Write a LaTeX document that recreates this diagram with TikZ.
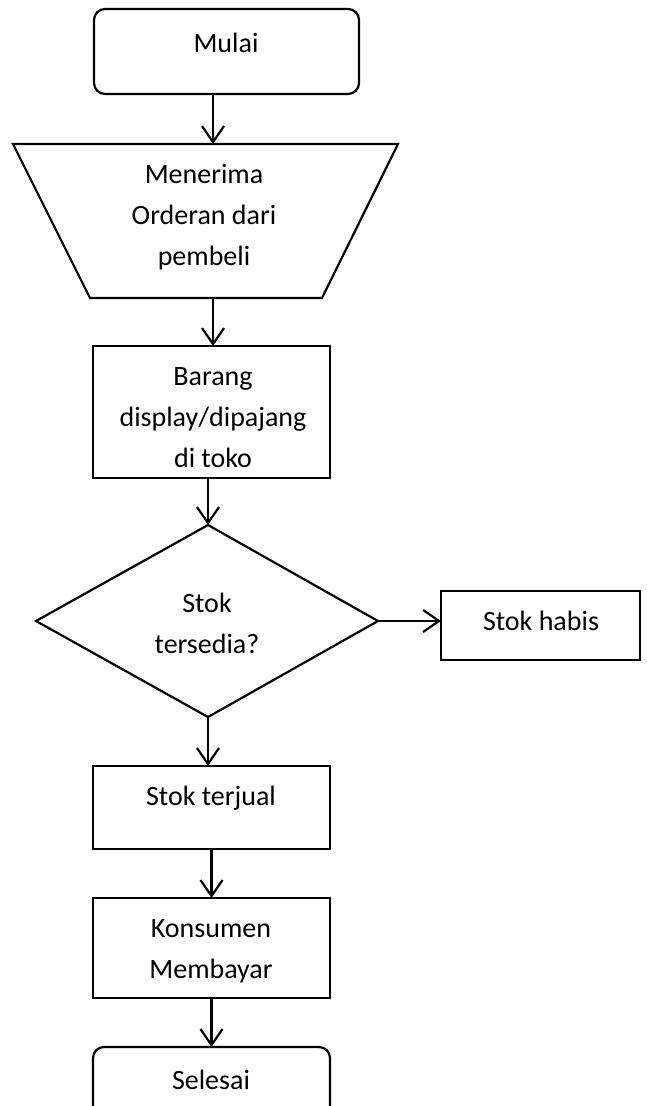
\documentclass[tikz,border=0pt]{standalone}
\usepackage{fontspec}
\setmainfont{Carlito}
\usetikzlibrary{arrows.meta}
\begin{document}
\begin{tikzpicture}[x=1pt,y=-1pt,
  shp/.style={draw=black,line width=2.2pt,inner sep=0pt,outer sep=0pt},
  lbl/.style={font=\fontsize{28}{41}\selectfont,anchor=base,inner sep=0pt,align=center},
  flow/.style={line width=2.2pt,-{Straight Barb[length=16pt,width=22pt]}}]
\useasboundingbox (0,0) rectangle (647,1106);
\clip (0,0) rectangle (647,1106);
% shapes
\node[shp,rounded corners=11pt,minimum width=265pt,minimum height=85pt] (mulai) at (226.5,51.5) {};
\coordinate (tA) at (13,144);
\coordinate (tB) at (398,144);
\coordinate (tC) at (322,298);
\coordinate (tD) at (90,298);
\coordinate (tTop) at (213,144);
\coordinate (tBot) at (213,298);
\draw[shp,line join=miter] (tA) -- (tB) -- (tC) -- (tD) -- cycle;
\node[shp,minimum width=237pt,minimum height=132pt] (barang) at (211.5,412) {};
\coordinate (dT) at (208,525);
\coordinate (dR) at (378,621);
\coordinate (dB) at (208,717);
\coordinate (dL) at (36,621);
\draw[shp,line join=miter] (dT) -- (dR) -- (dB) -- (dL) -- cycle;
\node[shp,minimum width=199pt,minimum height=69pt] (habis) at (540.5,625.5) {};
\node[shp,minimum width=237pt,minimum height=83pt] (terjual) at (211.5,807.5) {};
\node[shp,minimum width=237pt,minimum height=100pt] (bayar) at (211.5,948) {};
\node[shp,rounded corners=11pt,minimum width=237pt,minimum height=85pt] (selesai) at (211.5,1089.5) {};
% texts (anchor = baseline of last line)
\node[lbl] (tmulai) at (226,52) {Mulai};
\node[lbl] (torder) at (204,265) {Menerima\\Orderan dari\\pembeli};
\node[lbl] (tbarang) at (213,467) {Barang\\display/dipajang\\di toko};
\node[lbl] (tstok) at (207,653) {Stok\\tersedia?};
\node[lbl] (thabis) at (541,630) {Stok habis};
\node[lbl] (tterjual) at (211,805) {Stok terjual};
\node[lbl] (tbayar) at (211,978) {Konsumen\\Membayar};
\node[lbl] (tselesai) at (211,1089) {Selesai};
% connectors
\draw[flow] (mulai.south -| tTop) -- (tTop);
\draw[flow] (tBot) -- (barang.north -| tBot);
\draw[flow] (barang.south -| dT) -- (dT);
\draw[flow] (dR) -- (habis.west |- dR);
\draw[flow] (dB) -- (terjual.north -| dB);
\draw[flow] (terjual.south) -- (bayar.north);
\draw[flow] (bayar.south) -- (selesai.north);
\end{tikzpicture}
\end{document}
